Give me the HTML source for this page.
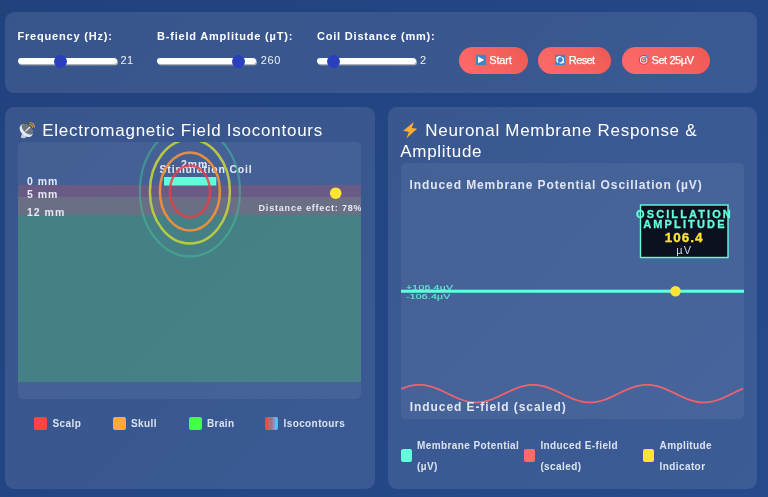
<!DOCTYPE html>
<html>
<head>
<meta charset="utf-8">
<style>
*{box-sizing:border-box;margin:0;padding:0}
html,body{width:768px;height:497px;overflow:hidden}
body{font-family:"Liberation Sans",sans-serif;background:linear-gradient(135deg,rgb(34,66,126) 0%,rgb(38,74,139) 100%);color:#fff;position:relative}
.abs{position:absolute}
.panel{position:absolute;background:rgba(255,255,255,0.1);border-radius:9px}
.lbl{position:absolute;font-weight:bold;font-size:11px;letter-spacing:0.8px;color:#fff;white-space:nowrap;line-height:12px}
.track{position:absolute;height:6.4px;background:#fff;border-radius:3px;box-shadow:1px 1.2px 0.8px rgba(190,190,190,0.95)}
.thumb{position:absolute;width:13px;height:13px;border-radius:50%;background:#2a3fbe}
.val{position:absolute;font-size:11px;color:#eef1f8;line-height:12px;letter-spacing:0.3px}
.btn{position:absolute;height:27px;border-radius:14px;background:linear-gradient(45deg,#ff6b6b,#ee5a52);color:#fff;font-size:11px;line-height:27px;white-space:nowrap;-webkit-text-stroke:0.25px #fff}
.btn span{position:absolute;top:0}
.title{position:absolute;font-size:17px;letter-spacing:0.75px;color:#fff;white-space:nowrap;line-height:22px}
.cv{position:absolute;background:rgba(255,255,255,0.06);border-radius:5px;overflow:hidden}
.t{position:absolute;white-space:nowrap;font-weight:bold}
.ct{color:#e6eaf4}
.st{font-size:10px;line-height:10px;letter-spacing:0.2px;font-weight:normal;color:rgba(100,255,218,0.85);-webkit-text-stroke:0.2px rgba(100,255,218,0.85);transform:scale(1.05,0.78);transform-origin:0 0}
.sw{position:absolute;border-radius:2px}
.lg{margin-top:0.5px;position:absolute;font-weight:bold;font-size:10px;letter-spacing:0.4px;color:#dbe3f1;white-space:nowrap;line-height:12px}
</style>
</head>
<body>
<div id="wrap" style="position:absolute;left:0;top:0;width:768px;height:497px;will-change:transform">

<!-- controls panel -->
<div class="panel" style="left:5px;top:12px;width:752px;height:81px"></div>
<div class="lbl" style="left:17.5px;top:29.7px">Frequency (Hz):</div>
<div class="lbl" style="left:157px;top:29.7px">B-field Amplitude (µT):</div>
<div class="lbl" style="left:317px;top:29.7px">Coil Distance (mm):</div>

<div class="track" style="left:18.2px;top:57.7px;width:99.3px"></div>
<div class="thumb" style="left:53.5px;top:54.8px"></div>
<div class="val" style="left:120.5px;top:54px">21</div>

<div class="track" style="left:157.2px;top:57.7px;width:99.3px"></div>
<div class="thumb" style="left:231.7px;top:54.8px"></div>
<div class="val" style="left:260.8px;top:54px;letter-spacing:0.6px">260</div>

<div class="track" style="left:317.2px;top:57.7px;width:99.3px"></div>
<div class="thumb" style="left:326.6px;top:54.8px"></div>
<div class="val" style="left:420px;top:54px">2</div>

<div class="btn" style="left:459px;top:47px;width:69px"><span style="left:30.3px;letter-spacing:-0.2px">Start</span></div>
<div class="btn" style="left:538px;top:47px;width:73px"><span style="left:30.8px;letter-spacing:-0.6px">Reset</span></div>
<div class="btn" style="left:621.5px;top:47px;width:88.5px"><span style="left:30px;letter-spacing:-0.42px">Set 25µV</span></div>

<!-- left panel -->
<div class="panel" style="left:5px;top:107px;width:370px;height:381.6px"></div>
<div class="title" style="left:42.2px;top:119.8px">Electromagnetic Field Isocontours</div>
<div class="cv" style="left:18px;top:142px;width:343.2px;height:256.5px">
  <div class="abs" style="left:0;top:42.6px;width:344px;height:12.8px;background:rgba(255,68,68,0.2)"></div>
  <div class="abs" style="left:0;top:55.4px;width:344px;height:17.8px;background:rgba(255,170,68,0.2)"></div>
  <div class="abs" style="left:0;top:73.2px;width:344px;height:166.4px;background:rgba(68,255,68,0.2)"></div>
  <div class="t ct" style="left:9px;top:33.2px;font-size:10.5px;letter-spacing:1px;line-height:12px">0 mm</div>
  <div class="t ct" style="left:9px;top:45.7px;font-size:10.5px;letter-spacing:1px;line-height:12px">5 mm</div>
  <div class="t ct" style="left:9px;top:63.8px;font-size:10.5px;letter-spacing:1px;line-height:12px">12 mm</div>
  <div class="t ct" style="left:163px;top:15.6px;font-size:10.5px;letter-spacing:0.9px;line-height:12px">2mm</div>
  <div class="t ct" style="left:141.5px;top:21.2px;font-size:10.5px;letter-spacing:0.82px;line-height:12px">Stimulation Coil</div>
  <div class="t ct" style="left:240.5px;top:60.7px;font-size:9px;letter-spacing:0.82px;line-height:10px">Distance effect: 78%</div>
  <svg class="abs" style="left:0;top:0" width="344" height="257" viewBox="18 142 344 257">
    <rect x="164.05" y="177" width="52.25" height="8.5" fill="#64ffda"/>
    <ellipse cx="189.9" cy="191.4" rx="50" ry="65" fill="none" stroke="rgba(70,190,150,0.55)" stroke-width="2.2"/>
    <ellipse cx="189.9" cy="191.4" rx="40" ry="52" fill="none" stroke="rgba(205,215,60,0.85)" stroke-width="2.5"/>
    <ellipse cx="189.9" cy="191.4" rx="30" ry="39" fill="none" stroke="rgba(250,145,55,0.9)" stroke-width="2.5"/>
    <ellipse cx="189.9" cy="191.4" rx="20" ry="26" fill="none" stroke="rgba(235,60,70,0.82)" stroke-width="2.5"/>
    <circle cx="335.7" cy="193.2" r="5.8" fill="#ffe433"/>
  </svg>
</div>
<div class="sw" style="left:34.1px;top:416.6px;width:13px;height:13px;background:#ff4444"></div>
<div class="lg" style="left:52.5px;top:417px">Scalp</div>
<div class="sw" style="left:113px;top:416.6px;width:13px;height:13px;background:#ffa940"></div>
<div class="lg" style="left:131px;top:417px">Skull</div>
<div class="sw" style="left:188.7px;top:416.6px;width:13px;height:13px;background:#44ff44"></div>
<div class="lg" style="left:207px;top:417px">Brain</div>
<div class="sw" style="left:265px;top:416.6px;width:13.3px;height:13px;background:linear-gradient(90deg,#ff4444 0,#f54848 20%,#c6606f 22%,#c6606f 40%,#a86e8e 42%,#a86e8e 57%,#8797c0 59%,#8797c0 76%,#46c8f5 78%,#46c8f5 100%)"></div>
<div class="lg" style="left:283.5px;top:417px">Isocontours</div>

<!-- right panel -->
<div class="panel" style="left:388.3px;top:107px;width:369px;height:381.6px"></div>
<div class="title" style="left:425.3px;top:119.6px;letter-spacing:0.7px">Neuronal Membrane Response &amp;</div>
<div class="title" style="left:400.3px;top:141.4px;letter-spacing:0.7px">Amplitude</div>
<div class="cv" style="left:401px;top:163px;width:342.5px;height:256.2px">
  <svg class="abs" style="left:0;top:0" width="343" height="257" viewBox="401 163 343 257">
    <rect x="401" y="289.7" width="343" height="3.05" fill="#64ffda"/>
    <circle cx="675.5" cy="291.2" r="5.3" fill="#ffe433"/>
    <path id="sine" d="M401 388.9 L404 387.8 L407 386.8 L410 385.9 L413 385.3 L416 384.9 L419 384.8 L422 384.9 L425 385.2 L428 385.8 L431 386.6 L434 387.5 L437 388.7 L440 389.9 L443 391.3 L446 392.8 L449 394.2 L452 395.6 L455 397.0 L458 398.3 L461 399.5 L464 400.5 L467 401.3 L470 401.9 L473 402.3 L476 402.4 L479 402.3 L482 402.0 L485 401.4 L488 400.6 L491 399.6 L494 398.5 L497 397.2 L500 395.8 L503 394.4 L506 392.9 L509 391.5 L512 390.1 L515 388.8 L518 387.7 L521 386.7 L524 385.9 L527 385.3 L530 384.9 L533 384.8 L536 384.9 L539 385.3 L542 385.8 L545 386.6 L548 387.6 L551 388.8 L554 390.0 L557 391.4 L560 392.8 L563 394.3 L566 395.7 L569 397.1 L572 398.4 L575 399.6 L578 400.5 L581 401.3 L584 401.9 L587 402.3 L590 402.4 L593 402.3 L596 401.9 L599 401.3 L602 400.5 L605 399.6 L608 398.4 L611 397.1 L614 395.7 L617 394.3 L620 392.8 L623 391.4 L626 390.0 L629 388.8 L632 387.6 L635 386.6 L638 385.8 L641 385.3 L644 384.9 L647 384.8 L650 384.9 L653 385.3 L656 385.9 L659 386.7 L662 387.7 L665 388.8 L668 390.1 L671 391.5 L674 392.9 L677 394.4 L680 395.8 L683 397.2 L686 398.5 L689 399.6 L692 400.6 L695 401.4 L698 402.0 L701 402.3 L704 402.4 L707 402.3 L710 401.9 L713 401.3 L716 400.5 L719 399.5 L722 398.3 L725 397.0 L728 395.6 L731 394.2 L734 392.8 L737 391.3 L740 389.9 L743 388.7" fill="none" stroke="rgba(255,100,105,0.9)" stroke-width="1.8"/>
    <rect x="640.5" y="205" width="87.5" height="52.5" fill="rgba(8,10,22,0.92)" stroke="#64ffda" stroke-width="1.4"/>
  </svg>
  <div class="t" style="left:8.6px;top:14.8px;font-size:12px;letter-spacing:0.9px;line-height:14px;color:#dfe5f2">Induced Membrane Potential Oscillation (µV)</div>
  <div class="t" style="left:8.8px;top:237.3px;font-size:12px;letter-spacing:0.92px;line-height:14px;color:#dfe5f2">Induced E-field (scaled)</div>
  <div class="t st" style="left:4.5px;top:121px">+106.4µV</div>
  <div class="t st" style="left:4.5px;top:130.1px">-106.4µV</div>
</div>
<div class="t" style="left:584.5px;top:207.6px;width:200px;text-align:center;font-size:11px;letter-spacing:2.1px;line-height:12px;color:#64ffda;-webkit-text-stroke:0.3px #64ffda">OSCILLATION</div>
<div class="t" style="left:584.9px;top:217.6px;width:200px;text-align:center;font-size:11px;letter-spacing:2.15px;line-height:12px;color:#64ffda;-webkit-text-stroke:0.3px #64ffda">AMPLITUDE</div>
<div class="t" style="left:584.2px;top:230.2px;width:200px;text-align:center;font-size:13.5px;letter-spacing:1px;line-height:16px;color:#ffe433;-webkit-text-stroke:0.3px #ffe433">106.4</div>
<div class="t" style="left:584.2px;top:243.8px;width:200px;text-align:center;font-size:11px;letter-spacing:1px;line-height:12px;color:#d4d9e4;font-weight:normal">µV</div>

<div class="sw" style="left:401px;top:448.5px;width:11px;height:13px;background:#64ffda"></div>
<div class="lg" style="left:417px;top:439px">Membrane Potential</div>
<div class="lg" style="left:417px;top:460px">(µV)</div>
<div class="sw" style="left:524.3px;top:448.5px;width:11px;height:13px;background:#ff6b6b"></div>
<div class="lg" style="left:540.4px;top:439px">Induced E-field</div>
<div class="lg" style="left:540.4px;top:460px">(scaled)</div>
<div class="sw" style="left:643px;top:448.5px;width:11px;height:13px;background:#ffe433"></div>
<div class="lg" style="left:659.6px;top:439px">Amplitude</div>
<div class="lg" style="left:659.6px;top:460px">Indicator</div>

<!-- icons overlay -->
<svg class="abs" style="left:0;top:0" width="768" height="497" viewBox="0 0 768 497">
  <!-- play -->
  <rect x="475.9" y="54.8" width="10.3" height="10.3" rx="1.2" fill="#3b88c3"/>
  <path d="M478 56.6 L484.2 59.9 L478 63.3 Z" fill="#fff"/>
  <!-- reset -->
  <rect x="555" y="54.8" width="10.2" height="10.3" rx="1.2" fill="#3b88c3"/>
  <circle cx="560.1" cy="59.95" r="3.2" fill="none" stroke="#fff" stroke-width="1.25" stroke-dasharray="8.6 1.45" transform="rotate(-60 560.1 59.95)"/>
  <path d="M555.6 57.4 L558.6 56.2 L558.2 59.2 Z M564.6 62.5 L561.6 63.7 L562 60.7 Z" fill="#fff"/>
  <!-- target -->
  <circle cx="643.7" cy="59.9" r="4.9" fill="#dd3b4b"/>
  <circle cx="643.7" cy="59.9" r="3.8" fill="#f3e6e6"/>
  <circle cx="643.7" cy="59.9" r="2.7" fill="#dd3b4b"/>
  <circle cx="643.7" cy="59.9" r="1.7" fill="#f3e6e6"/>
  <circle cx="643.7" cy="59.9" r="0.8" fill="#dd3b4b"/>
  <path d="M644 59.6 L647.2 56" stroke="#5aa0dc" stroke-width="1.1" fill="none"/>
  <path d="M646.2 55 L648.4 54.6 L648.6 57 L647 57.6 Z" fill="#4a9be0"/>
  <!-- satellite dish -->
  <g>
    <path d="M21 135.8 L23.2 132.5 L27 134.8 L25.5 137.7 Q23 138.8 21 137.5 Z" fill="#c3cad8"/>
    <ellipse cx="26.2" cy="130.6" rx="7.6" ry="5.2" transform="rotate(42 26.2 130.6)" fill="#e3e8f2"/>
    <ellipse cx="27.5" cy="129.3" rx="6.9" ry="3.8" transform="rotate(40 27.5 129.3)" fill="#70727c"/>
    <path d="M25.4 131.4 L30 127" stroke="#eef1f7" stroke-width="1.1" fill="none"/>
    <path d="M29.4 124.5 A3 3 0 0 1 32.6 127.7" stroke="#e9993a" stroke-width="1.1" fill="none"/>
    <path d="M29.5 122.5 A5 5 0 0 1 34.5 127.5" stroke="#e9993a" stroke-width="1.1" fill="none"/>
  </g>
  <!-- bolt -->
  <path d="M413.8 121.9 L403.2 130.8 L409 131.9 L406.3 138.5 L417.1 128.8 L411.8 128.1 Z" fill="#ffac33"/>
</svg>

</div>
</body>
</html>
